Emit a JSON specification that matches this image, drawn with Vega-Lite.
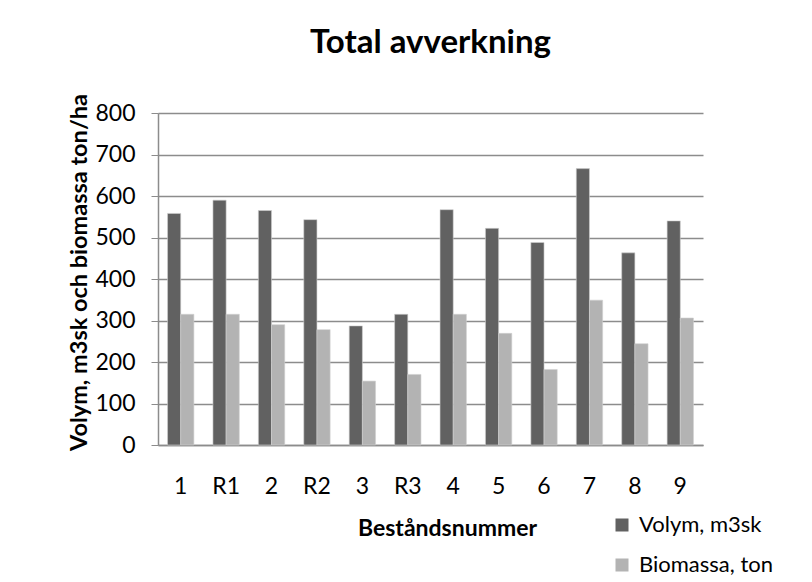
{
  "$schema": "https://vega.github.io/schema/vega-lite/v6.json",
  "width": 545,
  "height": 332,
  "autosize": {"type": "none"},
  "padding": {"left": 158, "top": 113, "right": 109, "bottom": 137},
  "background": "white",
  "title": {
    "text": "Total avverkning",
    "font": "Lato",
    "fontSize": 33,
    "fontWeight": "bold",
    "color": "black",
    "anchor": "middle",
    "frame": "group",
    "offset": 33
  },
  "data": {
    "values": [
      {"Bestand": "1", "Serie": "Volym, m3sk", "Varde": 558},
      {"Bestand": "1", "Serie": "Biomassa, ton", "Varde": 315},
      {"Bestand": "R1", "Serie": "Volym, m3sk", "Varde": 590},
      {"Bestand": "R1", "Serie": "Biomassa, ton", "Varde": 315},
      {"Bestand": "2", "Serie": "Volym, m3sk", "Varde": 565},
      {"Bestand": "2", "Serie": "Biomassa, ton", "Varde": 290},
      {"Bestand": "R2", "Serie": "Volym, m3sk", "Varde": 543},
      {"Bestand": "R2", "Serie": "Biomassa, ton", "Varde": 278},
      {"Bestand": "3", "Serie": "Volym, m3sk", "Varde": 287},
      {"Bestand": "3", "Serie": "Biomassa, ton", "Varde": 154},
      {"Bestand": "R3", "Serie": "Volym, m3sk", "Varde": 315},
      {"Bestand": "R3", "Serie": "Biomassa, ton", "Varde": 170},
      {"Bestand": "4", "Serie": "Volym, m3sk", "Varde": 567},
      {"Bestand": "4", "Serie": "Biomassa, ton", "Varde": 315},
      {"Bestand": "5", "Serie": "Volym, m3sk", "Varde": 522},
      {"Bestand": "5", "Serie": "Biomassa, ton", "Varde": 269},
      {"Bestand": "6", "Serie": "Volym, m3sk", "Varde": 488},
      {"Bestand": "6", "Serie": "Biomassa, ton", "Varde": 182},
      {"Bestand": "7", "Serie": "Volym, m3sk", "Varde": 666},
      {"Bestand": "7", "Serie": "Biomassa, ton", "Varde": 349},
      {"Bestand": "8", "Serie": "Volym, m3sk", "Varde": 463},
      {"Bestand": "8", "Serie": "Biomassa, ton", "Varde": 244},
      {"Bestand": "9", "Serie": "Volym, m3sk", "Varde": 540},
      {"Bestand": "9", "Serie": "Biomassa, ton", "Varde": 306}
    ]
  },
  "mark": {"type": "bar", "stroke": "#d0d0d0", "strokeWidth": 0.6},
  "encoding": {
    "x": {
      "field": "Bestand",
      "type": "nominal",
      "sort": ["1", "R1", "2", "R2", "3", "R3", "4", "5", "6", "7", "8", "9"],
      "scale": {"paddingInner": 0.42, "paddingOuter": 0.21},
      "axis": {
        "title": "Beståndsnummer",
        "labelAngle": 0,
        "ticks": false,
        "labelPadding": 30,
        "labelFont": "Lato",
        "labelFontSize": 23,
        "labelColor": "black",
        "domainColor": "#8c8c8c",
        "domainWidth": 1.5,
        "titleFont": "Lato",
        "titleFontSize": 23,
        "titleFontWeight": "bold",
        "titleColor": "black",
        "titleX": 289,
        "titleY": 83,
        "titleBaseline": "middle"
      }
    },
    "xOffset": {
      "field": "Serie",
      "type": "nominal",
      "sort": ["Volym, m3sk", "Biomassa, ton"],
      "scale": {"paddingInner": 0, "paddingOuter": 0}
    },
    "y": {
      "field": "Varde",
      "type": "quantitative",
      "scale": {"domain": [0, 800], "nice": false},
      "axis": {
        "title": "Volym, m3sk och biomassa ton/ha",
        "values": [0, 100, 200, 300, 400, 500, 600, 700, 800],
        "tickSize": 7,
        "tickColor": "#8c8c8c",
        "domainColor": "#8c8c8c",
        "domainWidth": 1.5,
        "gridColor": "#8c8c8c",
        "gridWidth": 1.5,
        "labelPadding": 16,
        "labelFont": "Lato",
        "labelFontSize": 23,
        "labelColor": "black",
        "titleFont": "Lato",
        "titleFontSize": 23.5,
        "titleFontWeight": "bold",
        "titleColor": "black",
        "titleX": -79,
        "titleY": 159,
        "titleAngle": -90,
        "titleAlign": "center",
        "titleBaseline": "middle"
      }
    },
    "color": {
      "field": "Serie",
      "type": "nominal",
      "sort": ["Volym, m3sk", "Biomassa, ton"],
      "scale": {"domain": ["Volym, m3sk", "Biomassa, ton"], "range": ["#616161", "#b3b3b3"]},
      "legend": {
        "title": null,
        "orient": "none",
        "legendX": 453,
        "legendY": 401,
        "symbolType": "square",
        "symbolSize": 169,
        "symbolStrokeWidth": 0,
        "symbolOpacity": 1,
        "labelFont": "Lato",
        "labelFontSize": 22,
        "labelColor": "black",
        "labelOffset": 6,
        "rowPadding": 18
      }
    }
  },
  "config": {
    "view": {"stroke": null},
    "axis": {"grid": true},
    "axisX": {"grid": false}
  }
}
